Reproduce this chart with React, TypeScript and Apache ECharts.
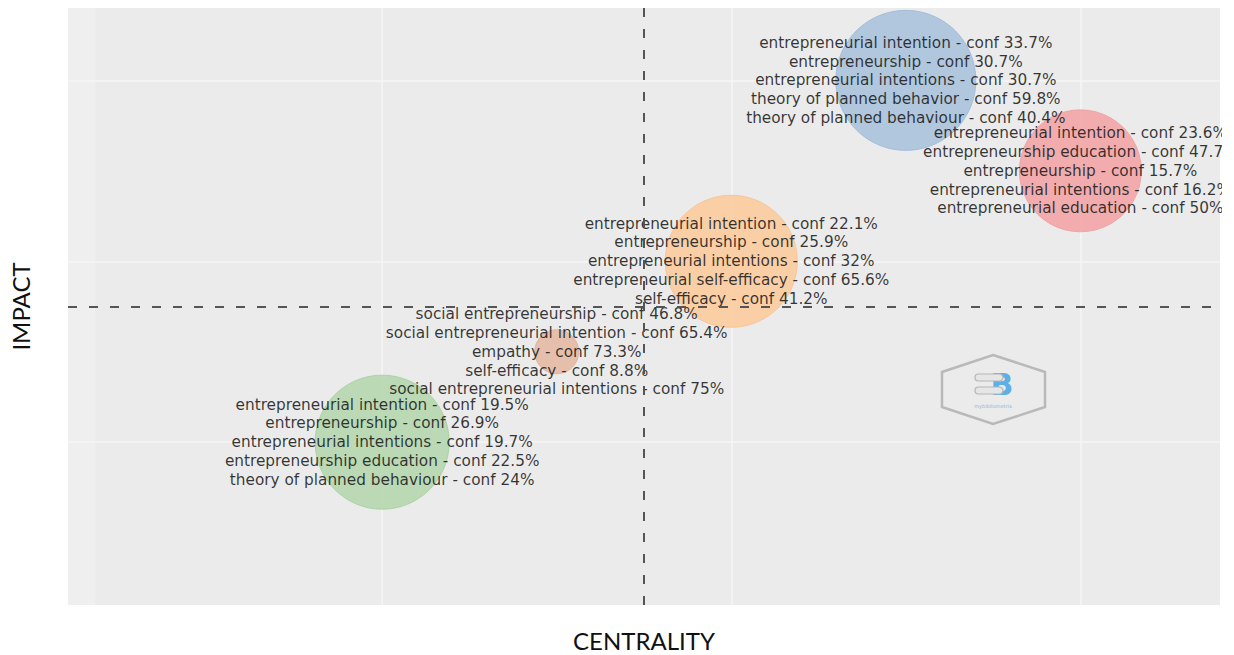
import React, { useEffect, useRef } from "react";
import * as echarts from "echarts";

// ---- data ----
const clusterNames = ["cluster 1", "cluster 2", "cluster 3", "cluster 4", "cluster 5"];
const centrality = [1, 2, 3, 4, 5];
const impact = [1, 2, 3, 5, 4];
const clusterWeight = [134, 44, 132, 140, 122];
const clusterLabels: string[][] = [
  [
    "entrepreneurial intention - conf 19.5%",
    "entrepreneurship - conf 26.9%",
    "entrepreneurial intentions - conf 19.7%",
    "entrepreneurship education - conf 22.5%",
    "theory of planned behaviour - conf 24%",
  ],
  [
    "social entrepreneurship - conf 46.8%",
    "social entrepreneurial intention - conf 65.4%",
    "empathy - conf 73.3%",
    "self-efficacy - conf 8.8%",
    "social entrepreneurial intentions - conf 75%",
  ],
  [
    "entrepreneurial intention - conf 22.1%",
    "entrepreneurship - conf 25.9%",
    "entrepreneurial intentions - conf 32%",
    "entrepreneurial self-efficacy - conf 65.6%",
    "self-efficacy - conf 41.2%",
  ],
  [
    "entrepreneurial intention - conf 33.7%",
    "entrepreneurship - conf 30.7%",
    "entrepreneurial intentions - conf 30.7%",
    "theory of planned behavior - conf 59.8%",
    "theory of planned behaviour - conf 40.4%",
  ],
  [
    "entrepreneurial intention - conf 23.6%",
    "entrepreneurship education - conf 47.7%",
    "entrepreneurship - conf 15.7%",
    "entrepreneurial intentions - conf 16.2%",
    "entrepreneurial education - conf 50%",
  ],
];
const axisRange = [-0.8, 5.8];
const gridBreaks = [1, 3, 5];
const centralityCut = 2.5;
const impactCut = 2.5;

const fills = ["#b3d6ac", "#e4b8a2", "#fccb9c", "#a9c1dc", "#f3a3a5"];
const borders = ["#a6cf9f", "#ddb09a", "#f9c190", "#9db8d9", "#efa0a2"];

export default function App() {
  const ref = useRef<HTMLDivElement>(null);
  useEffect(() => {
    if (!ref.current) return;
    const chart = echarts.init(ref.current, undefined, { renderer: "svg" });
    const gridLineData = [
      ...gridBreaks.map((v) => ({ xAxis: v })),
      ...gridBreaks.map((v) => ({ yAxis: v })),
    ];
    const bubbleSeries = clusterNames.map((name, i) => ({
      type: "scatter",
      name,
      z: 3,
      data: [[centrality[i], impact[i], clusterWeight[i]]],
      symbolSize: (d: number[]) => d[2],
      itemStyle: { color: fills[i], opacity: 0.88, borderColor: borders[i], borderWidth: 1 },
      label: {
        show: true,
        position: "inside",
        formatter: () => clusterLabels[i].join("\n"),
        fontFamily: "DejaVu Sans",
        fontSize: 15.3,
        lineHeight: 18.8,
        color: "#1a1a1a",
        align: "center",
        verticalAlign: "middle",
      },
      emphasis: { disabled: true },
    }));
    chart.setOption({
      animation: false,
      grid: {
        left: 68,
        right: 14,
        top: 8,
        bottom: 50,
        show: true,
        backgroundColor: "#ebebeb",
        borderWidth: 0,
        containLabel: false,
        outerBoundsMode: "none",
      },
      xAxis: {
        type: "value",
        min: axisRange[0],
        max: axisRange[1],
        axisLine: { show: false },
        axisTick: { show: false },
        axisLabel: { show: false },
        splitLine: { show: false },
        name: "CENTRALITY",
        nameLocation: "middle",
        nameGap: 23,
        nameTextStyle: { fontFamily: "Lato", fontSize: 24, color: "#111" },
      },
      yAxis: {
        type: "value",
        min: axisRange[0],
        max: axisRange[1],
        axisLine: { show: false },
        axisTick: { show: false },
        axisLabel: { show: false },
        splitLine: { show: false },
        name: "IMPACT",
        nameLocation: "middle",
        nameRotate: 90,
        nameGap: 36,
        nameTextStyle: { fontFamily: "Lato", fontSize: 24, color: "#111" },
      },
      series: [
        {
          type: "scatter",
          z: 1,
          data: [],
          markArea: {
            z: 0,
            silent: true,
            itemStyle: { color: "#efefef" },
            data: [[{ xAxis: axisRange[0] }, { xAxis: -0.645 }]],
          },
          markLine: {
            z: 1,
            silent: true,
            symbol: "none",
            label: { show: false },
            lineStyle: { color: "#f6f6f6", width: 1.5, type: "solid" },
            data: gridLineData,
          },
        },
        ...bubbleSeries,
        {
          type: "scatter",
          z: 5,
          data: [],
          markLine: {
            z: 6,
            silent: true,
            symbol: "none",
            label: { show: false },
            lineStyle: { color: "#555", width: 2, type: [9, 12] },
            data: [{ xAxis: centralityCut }, { yAxis: impactCut }],
          },
        },
      ],
      graphic: [
        {
          type: "rect",
          z: 100,
          shape: { x: 1222, y: 0, width: 20, height: 655 },
          style: { fill: "#ffffff" },
        },
        {
          type: "group",
          z: 4,
          children: [
            {
              type: "polygon",
              shape: {
                points: [
                  [993, 355],
                  [1045, 372],
                  [1045, 407],
                  [993, 424],
                  [942, 407],
                  [942, 372],
                ],
              },
              style: { fill: "none", stroke: "#b9b9b9", lineWidth: 2.5 },
            },
            {
              type: "text",
              style: {
                text: "B",
                x: 1002,
                y: 384,
                align: "center",
                verticalAlign: "middle",
                fontFamily: "DejaVu Sans",
                fontWeight: "bold",
                fontSize: 30,
                fill: "#5cb0e6",
              },
            },
            {
              type: "rect",
              shape: { x: 975, y: 374, width: 28, height: 7, r: 3.5 },
              style: { fill: "#e6e6e6", stroke: "#b5b5b5", lineWidth: 1.2 },
            },
            {
              type: "rect",
              shape: { x: 975, y: 387, width: 28, height: 7, r: 3.5 },
              style: { fill: "#e6e6e6", stroke: "#b5b5b5", lineWidth: 1.2 },
            },
            {
              type: "text",
              style: {
                text: "mybibliometrix",
                x: 993,
                y: 406,
                align: "center",
                verticalAlign: "middle",
                fontFamily: "DejaVu Sans",
                fontSize: 5,
                fill: "#8cb6d6",
              },
            },
          ],
        },
      ],
    });
    return () => chart.dispose();
  }, []);
  return (
    <div
      ref={ref}
      style={{ position: "absolute", left: 0, top: 0, width: 1234, height: 655, background: "#fff" }}
    />
  );
}
